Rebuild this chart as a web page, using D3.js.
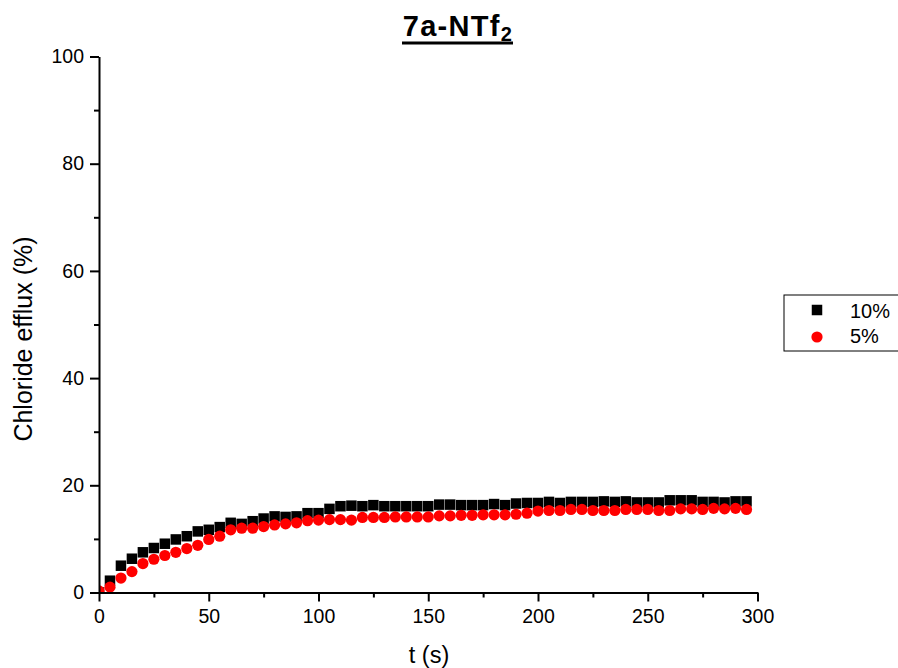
<!DOCTYPE html>
<html>
<head>
<meta charset="utf-8">
<script src="https://cdn.jsdelivr.net/npm/d3@7"></script>
<style>
  body { margin: 0; background: #fff; }
  text { font-family: Arial, "Liberation Sans", sans-serif; fill: #000; }
</style>
</head>
<body>
<svg id="chart" width="898" height="668"></svg>
<script>
"use strict";

// time points (s)
var times = [0, 5, 10, 15, 20, 25, 30, 35, 40, 45, 50, 55, 60, 65, 70, 75, 80, 85, 90, 95,
  100, 105, 110, 115, 120, 125, 130, 135, 140, 145, 150, 155, 160, 165, 170, 175, 180, 185, 190, 195,
  200, 205, 210, 215, 220, 225, 230, 235, 240, 245, 250, 255, 260, 265, 270, 275, 280, 285, 290, 295];

// chloride efflux (%) - 10 %
var efflux10 = [0, 2.2, 5.0, 6.3, 7.5, 8.3, 9.1, 9.9, 10.5, 11.4, 11.7, 12.2, 13.0, 12.8, 13.3, 13.8, 14.2, 14.1, 14.2, 14.8,
  14.8, 15.6, 16.1, 16.2, 16.1, 16.3, 16.1, 16.1, 16.1, 16.1, 16.1, 16.4, 16.4, 16.3, 16.3, 16.3, 16.5, 16.3, 16.6, 16.7,
  16.7, 16.9, 16.7, 16.9, 16.9, 16.9, 17.0, 16.9, 17.0, 16.8, 16.8, 16.8, 17.2, 17.2, 17.2, 16.9, 16.9, 16.8, 17.0, 17.0];

// chloride efflux (%) - 5 %
var efflux5 = [0.3, 1.0, 2.7, 3.9, 5.4, 6.2, 6.9, 7.5, 8.2, 8.8, 9.9, 10.5, 11.7, 12.0, 12.0, 12.3, 12.6, 12.8, 13.0, 13.4,
  13.5, 13.6, 13.6, 13.5, 14.0, 14.0, 14.0, 14.1, 14.1, 14.1, 14.1, 14.3, 14.3, 14.4, 14.4, 14.5, 14.5, 14.5, 14.6, 14.8,
  15.2, 15.3, 15.3, 15.5, 15.5, 15.3, 15.3, 15.3, 15.5, 15.5, 15.5, 15.3, 15.3, 15.6, 15.6, 15.5, 15.7, 15.6, 15.7, 15.5];

var xMajor = [0, 50, 100, 150, 200, 250, 300];
var xMinor = [25, 75, 125, 175, 225, 275];
var yMajor = [0, 20, 40, 60, 80, 100];
var yMinor = [10, 30, 50, 70, 90];

var seriesNames = ["10%", "5%"];

var svg = d3.select("#chart");

var x = d3.scaleLinear().domain([0, 300]).range([99, 757.5]);
var y = d3.scaleLinear().domain([0, 100]).range([592.5, 56.5]);

// clip to the plot area
svg.append("clipPath").attr("id", "plotclip")
  .append("rect")
  .attr("x", x(0)).attr("y", y(100))
  .attr("width", x(300) - x(0)).attr("height", y(0) - y(100));

var plot = svg.append("g").attr("clip-path", "url(#plotclip)");

var pts10 = times.map(function (t, i) { return {t: t, v: efflux10[i]}; });
var pts5 = times.map(function (t, i) { return {t: t, v: efflux5[i]}; });

var sq = 10.5;
plot.selectAll("rect.s10").data(pts10).enter().append("rect")
  .attr("class", "s10")
  .attr("x", function (d) { return x(d.t) - sq / 2; })
  .attr("y", function (d) { return y(d.v) - sq / 2; })
  .attr("width", sq).attr("height", sq)
  .style("fill", "#000");

plot.selectAll("circle.s5").data(pts5).enter().append("circle")
  .attr("class", "s5")
  .attr("cx", function (d) { return x(d.t); })
  .attr("cy", function (d) { return y(d.v); })
  .attr("r", 5.6)
  .style("fill", "#ff0000");

// axes
svg.append("g").attr("transform", "translate(0," + y(0) + ")")
  .call(d3.axisBottom(x).tickValues(xMajor).tickSize(9).tickSizeOuter(0).tickPadding(8));
svg.append("g").attr("transform", "translate(0," + y(0) + ")")
  .call(d3.axisBottom(x).tickValues(xMinor).tickSize(5).tickSizeOuter(0).tickFormat(""))
  .select(".domain").remove();

svg.append("g").attr("transform", "translate(" + x(0) + ",0)")
  .call(d3.axisLeft(y).tickValues(yMajor).tickSize(9).tickSizeOuter(0).tickPadding(6));
svg.append("g").attr("transform", "translate(" + x(0) + ",0)")
  .call(d3.axisLeft(y).tickValues(yMinor).tickSize(5).tickSizeOuter(0).tickFormat(""))
  .select(".domain").remove();

svg.selectAll(".domain").style("stroke", "#000").style("stroke-width", 2);
svg.selectAll(".tick line").style("stroke", "#000").style("stroke-width", 2);
svg.selectAll(".tick text").style("font-size", "19.5px").style("font-family", "Arial, 'Liberation Sans', sans-serif");

// axis titles
svg.append("text")
  .attr("x", 429).attr("y", 663)
  .attr("text-anchor", "middle")
  .style("font-size", "23.5px")
  .text("t (s)");

svg.append("text")
  .attr("transform", "translate(32,339) rotate(-90)")
  .attr("text-anchor", "middle")
  .style("font-size", "25px")
  .text("Chloride efflux (%)");

// title
var title = svg.append("text")
  .attr("x", 458).attr("y", 36)
  .attr("text-anchor", "middle")
  .style("font-size", "29px")
  .style("letter-spacing", "1.3px")
  .style("font-weight", "bold");
title.append("tspan").text("7a-NTf");
title.append("tspan").attr("dy", 5).style("font-size", "20px").text("2");

svg.append("line")
  .attr("x1", 402).attr("x2", 513)
  .attr("y1", 43).attr("y2", 43)
  .style("stroke", "#000").style("stroke-width", 3);

// legend
var legend = svg.append("g").attr("transform", "translate(784,295)");
legend.append("rect")
  .attr("x", 0).attr("y", 0).attr("width", 130).attr("height", 56)
  .style("fill", "#fff").style("stroke", "#000").style("stroke-width", 1);

legend.append("rect")
  .attr("x", 33 - sq / 2).attr("y", 15 - sq / 2).attr("width", sq).attr("height", sq)
  .style("fill", "#000");
legend.append("circle")
  .attr("cx", 33).attr("cy", 42).attr("r", 5.6)
  .style("fill", "#ff0000");

legend.selectAll("text.lg").data(seriesNames).enter().append("text")
  .attr("class", "lg")
  .attr("x", 66)
  .attr("y", function (d, i) { return 23 + i * 25; })
  .style("font-size", "20px")
  .text(function (d) { return d; });
</script>
</body>
</html>
